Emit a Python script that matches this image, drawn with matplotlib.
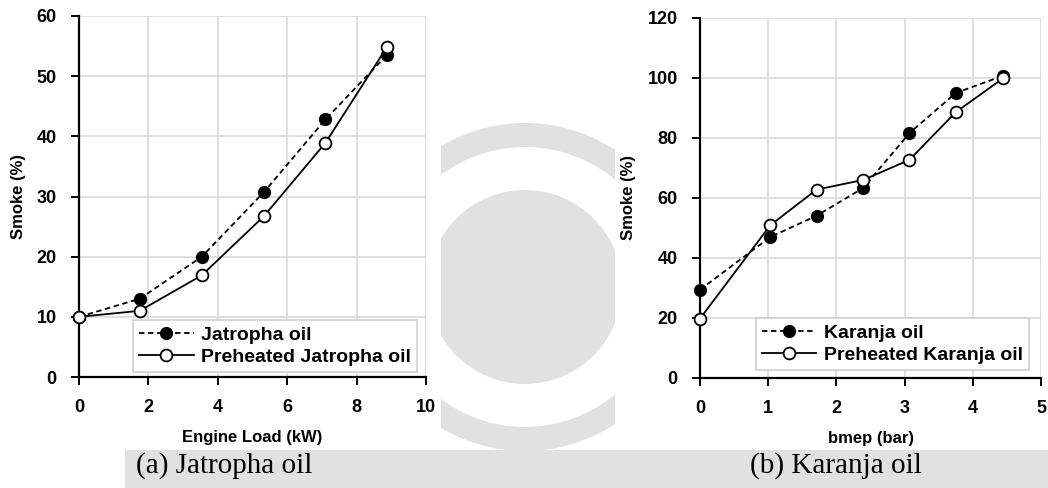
import matplotlib
matplotlib.use("Agg")
import matplotlib.pyplot as plt
from matplotlib.patches import Circle, Rectangle

plt.rcParams['font.family'] = ['Liberation Sans', 'DejaVu Sans']
plt.rcParams['font.weight'] = 'bold'

# (a) Jatropha oil
load_kw = [0, 1.75, 3.54, 5.34, 7.1, 8.87]
jatropha = [10, 13.0, 20.0, 30.8, 42.8, 53.5]
jatropha_pre = [10, 11.0, 16.9, 26.8, 38.9, 54.8]

# (b) Karanja oil
bmep = [0, 1.03, 1.71, 2.39, 3.07, 3.75, 4.45]
karanja = [29.4, 47.0, 54.1, 63.3, 81.6, 95.0, 100.8]
karanja_pre = [19.8, 50.9, 62.8, 66.0, 72.7, 88.6, 100.0]

W, H = 1048, 488
fig = plt.figure(figsize=(W / 100, H / 100), dpi=100)

# faint watermark background
bg = fig.add_axes([0, 0, 1, 1], zorder=-5)
bg.set_xlim(0, W)
bg.set_ylim(H, 0)
bg.axis('off')
wm = '#e1e1e1'
bg.add_patch(Rectangle((125, 450), W - 125, 38, color=wm, lw=0))
bg.add_patch(Circle((525, 287), 164, color=wm, lw=0))
bg.add_patch(Circle((525, 287), 140, color='white', lw=0))
bg.add_patch(Circle((525, 287), 97, color=wm, lw=0))
bg.add_patch(Rectangle((0, 0), 441, 450, color='white', lw=0))
bg.add_patch(Rectangle((615, 0), W - 615, 450, color='white', lw=0))


def make_axes(box):
    l, r, t, b = box
    ax = fig.add_axes([l / W, 1 - b / H, (r - l) / W, (b - t) / H])
    ax.set_facecolor('none')
    for s in ['top', 'right']:
        ax.spines[s].set_visible(False)
    for s in ['left', 'bottom']:
        ax.spines[s].set_linewidth(1.6)
        ax.spines[s].set_color('black')
    ax.grid(True, color='#d9d9d9', lw=1.2)
    ax.set_axisbelow(True)
    ax.tick_params(direction='out', length=6, width=1.4, labelsize=13, pad=10)
    return ax


def draw(ax, x, y1, y2, names):
    ax.plot(x, y1, ls=(0, (3, 2)), color='black', lw=1.3, marker='o', ms=8.5,
            mfc='black', mec='black', label=names[0], clip_on=False, zorder=3)
    ax.plot(x, y2, ls='-', color='black', lw=1.3, marker='o', ms=8.5,
            mfc='white', mec='black', mew=1.3, label=names[1], clip_on=False, zorder=4)


def legend(ax, corner):
    leg = ax.legend(loc='lower right', bbox_to_anchor=(corner[0] / W, 1 - corner[1] / H),
                    bbox_transform=fig.transFigure, borderaxespad=0, fancybox=False,
                    framealpha=1, edgecolor='#d0d0d0', prop={'size': 14, 'weight': 'bold'},
                    handlelength=2.8, handletextpad=0.4, labelspacing=0.25, borderpad=0.3)
    leg.get_frame().set_linewidth(1.2)


ax1 = make_axes((79, 426, 16, 377))
draw(ax1, load_kw, jatropha, jatropha_pre, ['Jatropha oil', 'Preheated Jatropha oil'])
ax1.set_xlim(0, 10)
ax1.set_ylim(0, 60)
ax1.set_xticks(range(0, 11, 2))
ax1.set_yticks(range(0, 61, 10))
ax1.set_xlabel('Engine Load (kW)', fontsize=12, fontweight='bold', labelpad=10)
ax1.set_ylabel('Smoke (%)', fontsize=12, fontweight='bold', labelpad=8)
legend(ax1, (417, 372))

ax2 = make_axes((700, 1041, 18, 378))
draw(ax2, bmep, karanja, karanja_pre, ['Karanja oil', 'Preheated Karanja oil'])
ax2.set_xlim(0, 5)
ax2.set_ylim(0, 120)
ax2.set_xticks(range(0, 6))
ax2.set_yticks(range(0, 121, 20))
ax2.set_xlabel('bmep (bar)', fontsize=12, fontweight='bold', labelpad=10)
ax2.set_ylabel('Smoke (%)', fontsize=12, fontweight='bold', labelpad=8)
legend(ax2, (1029, 370))

for ax in (ax1, ax2):
    for lab in ax.get_xticklabels() + ax.get_yticklabels():
        lab.set_fontweight('bold')

fig.text(224 / W, 1 - 466 / H, '(a) Jatropha oil', family='Liberation Serif',
         fontweight='normal', fontsize=21, ha='center', va='center')
fig.text(836 / W, 1 - 466 / H, '(b) Karanja oil', family='Liberation Serif',
         fontweight='normal', fontsize=21, ha='center', va='center')

fig.savefig('out.png', dpi=100)
